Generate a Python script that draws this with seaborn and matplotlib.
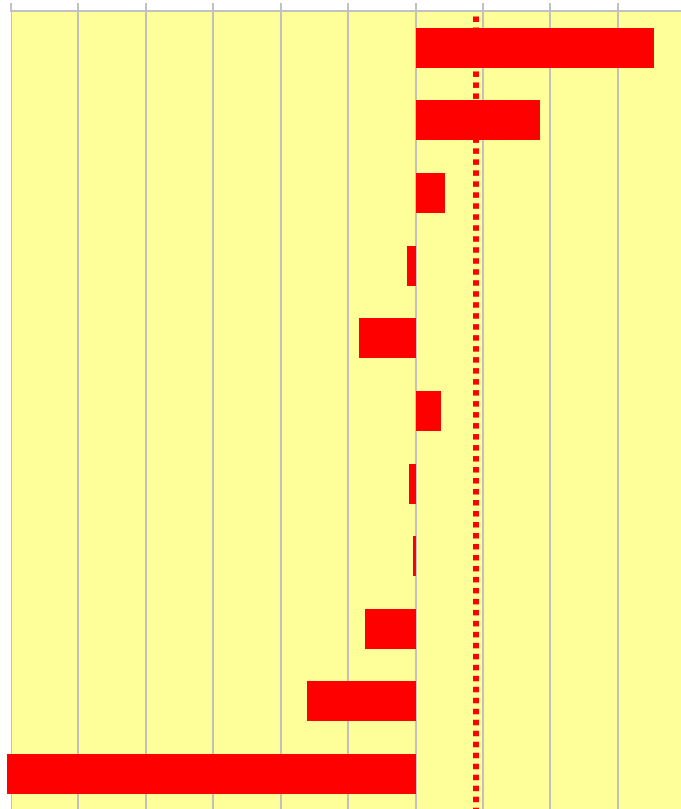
import matplotlib
matplotlib.use('Agg')
import matplotlib.pyplot as plt
import numpy as np
import pandas as pd
import seaborn as sns

# values (one grid step = 1 unit)
categories = ['1', '2', '3', '4', '5', '6', '7', '8', '9', '10', '11']
values = [3.53, 1.84, 0.44, -0.13, -0.84, 0.385, -0.10, -0.044, -0.755, -1.61, -6.06]
ref_value = 0.89
x_ticks = [-6, -5, -4, -3, -2, -1, 0, 1, 2, 3, 4]

df = pd.DataFrame({'category': categories, 'value': values})

sns.set_style('whitegrid', {
    'axes.facecolor': '#FFFF99',
    'grid.color': '#c0c0c0',
    'axes.edgecolor': '#c0c0c0',
})

fig = plt.figure(figsize=(6.81, 8.09), dpi=100)
# plot area runs past the right and bottom edge of the image
ax = fig.add_axes([10.8 / 681, 1 - 810.4 / 809, 674.5 / 681, 799 / 809])

sns.barplot(data=df, x='value', y='category', orient='h', color='#FF0000',
            saturation=1, width=0.55, ax=ax, zorder=3)
for patch in ax.patches:
    patch.set_clip_on(False)
    patch.set_linewidth(0)

ax.plot([ref_value, ref_value], [-0.5, len(categories) - 0.5], color='#FF0000',
        lw=4.3, linestyle=(0.92, (0.92, 0.92)), dash_capstyle='butt', zorder=4)

ax.set_xlim(-6, 4)
ax.set_ylim(len(categories) - 0.5, -0.5)
ax.set_xticks(x_ticks)
ax.grid(True, axis='x', lw=1.4)
ax.grid(False, axis='y')
ax.set_axisbelow(True)

ax.xaxis.tick_top()
ax.tick_params(axis='x', top=True, bottom=False, direction='out', length=5.8,
               width=1.4, color='#c0c0c0', labeltop=False, labelbottom=False)
ax.tick_params(axis='y', left=False, labelleft=False)
ax.set_xlabel('')
ax.set_ylabel('')
for side in ['left', 'right', 'bottom']:
    ax.spines[side].set_visible(False)
ax.spines['top'].set_linewidth(1.4)

fig.savefig('out.png', dpi=100)
plt.close(fig)
